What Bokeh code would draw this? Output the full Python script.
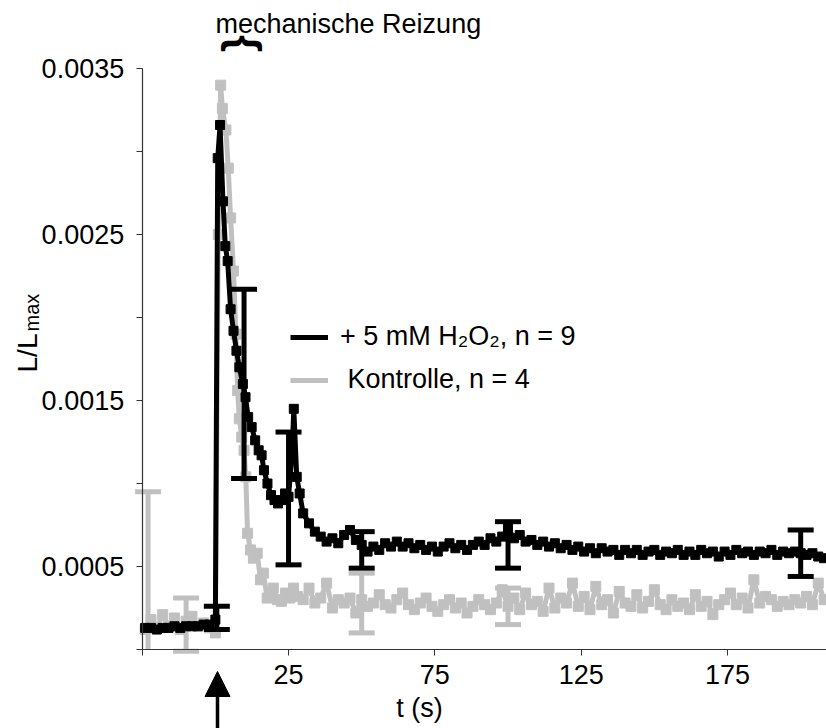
import numpy as np
from math import pi
from bokeh.plotting import figure
from bokeh.models import Range1d, FixedTicker, Label, Arrow, NormalHead, Legend, LegendItem
from bokeh.embed import file_html
from bokeh.resources import INLINE

# ---------------- data ----------------
# + 5 mM H2O2, n = 9 (black)
t_h2o2_early = [-24, -22, -20, -18, -16, -14, -12, -10, -8, -6, -4, -2, 0,
                0.8, 1.6, 2.6, 3.4, 4.2, 5.2, 6.2, 7.2, 8.2, 9.4,
                10.3, 11.2, 12.4, 13.6, 14.8, 15.8, 16.6, 17.8, 19.0, 20.2,
                21.4, 22.6, 23.8, 25.0, 26.2, 26.8, 27.8, 28.8]
L_h2o2_early = [0.00013, 0.00013, 0.00012, 0.00013, 0.00013, 0.00014, 0.00013, 0.00014, 0.00014, 0.00014, 0.00015, 0.00015, 0.00018,
                0.00296, 0.00316, 0.00270, 0.00243, 0.00234, 0.00205, 0.00192, 0.00180, 0.00170, 0.00160,
                0.00152, 0.00140, 0.00134, 0.00126, 0.00120, 0.00117, 0.00108, 0.00100, 0.00093, 0.00090,
                0.00088, 0.00090, 0.00094, 0.00092, 0.00118, 0.00145, 0.00104, 0.00094]
t_h2o2_tail_start = 30
t_h2o2_tail_step = 2
L_h2o2_tail = [0.00082, 0.00076, 0.00071, 0.00068, 0.00065, 0.00067, 0.00064, 0.00069, 0.00072, 0.00066,
               0.00063, 0.00059, 0.00062, 0.00060, 0.00064, 0.00062, 0.00065, 0.00062, 0.00064, 0.00061,
               0.00063, 0.00060, 0.00062, 0.00059, 0.00062, 0.00064, 0.00061, 0.00063, 0.00060, 0.00063,
               0.00065, 0.00063, 0.00067, 0.00065, 0.00068, 0.00073, 0.00067, 0.00069, 0.00065, 0.00066,
               0.00063, 0.00065, 0.00062, 0.00064, 0.00061, 0.00063, 0.00060, 0.00062, 0.00059, 0.00061,
               0.00058, 0.00061, 0.00059, 0.00060, 0.00057, 0.00060, 0.00058, 0.00060, 0.00057, 0.00059,
               0.00060, 0.00057, 0.00059, 0.00058, 0.00060, 0.00057, 0.00059, 0.00057, 0.00060, 0.00058,
               0.00059, 0.00056, 0.00059, 0.00057, 0.00060, 0.00058, 0.00059, 0.00057, 0.00059, 0.00058,
               0.00060, 0.00057, 0.00059, 0.00058, 0.00059, 0.00058, 0.00057, 0.00058, 0.00056, 0.00055]

# Kontrolle, n = 4 (grey)
t_ctrl_early = [-24, -22, -20, -18, -16, -14, -12, -10, -8, -6, -4, -2, 0,
                1.0, 1.8, 2.4, 3.6, 4.4, 5.2, 6.2, 7.0, 7.6, 8.2,
                9.0, 9.8, 10.4, 11.0, 12.0, 13.0, 14.3, 15.4, 16.4, 17.7,
                18.8, 19.8, 21.2, 22.6, 24.0, 25.4, 26.7, 28.0]
L_ctrl_early = [0.00012, 0.00018, 0.00013, 0.00021, 0.00014, 0.00019, 0.00012, 0.00017, 0.00020, 0.00014, 0.00016, 0.00013, 0.00010,
                0.00250, 0.00340, 0.00326, 0.00313, 0.00290, 0.00260, 0.00228, 0.00190, 0.00156, 0.00139,
                0.00128, 0.00120, 0.00104, 0.00070, 0.00060, 0.00055, 0.00058, 0.00042, 0.00046, 0.00031,
                0.00034, 0.00037, 0.00030, 0.00029, 0.00034, 0.00031, 0.00037, 0.00032]
t_ctrl_tail_start = 30
t_ctrl_tail_step = 2
L_ctrl_tail = [0.00030, 0.00037, 0.00028, 0.00031, 0.00040, 0.00025, 0.00030, 0.00028, 0.00031, 0.00022,
               0.00030, 0.00026, 0.00028, 0.00033, 0.00027, 0.00025, 0.00030, 0.00034, 0.00027, 0.00024,
               0.00028, 0.00031, 0.00026, 0.00023, 0.00027, 0.00030, 0.00025, 0.00028, 0.00022, 0.00026,
               0.00030, 0.00027, 0.00024, 0.00028, 0.00036, 0.00026, 0.00031, 0.00024, 0.00034, 0.00027,
               0.00029, 0.00023, 0.00037, 0.00025, 0.00031, 0.00028, 0.00040, 0.00026, 0.00032, 0.00024,
               0.00038, 0.00027, 0.00030, 0.00022, 0.00035, 0.00028, 0.00026, 0.00033, 0.00025, 0.00029,
               0.00036, 0.00027, 0.00024, 0.00030, 0.00026, 0.00028, 0.00024, 0.00033, 0.00026, 0.00029,
               0.00021, 0.00027, 0.00030, 0.00034, 0.00027, 0.00031, 0.00025, 0.00042, 0.00028, 0.00032,
               0.00030, 0.00026, 0.00029, 0.00027, 0.00030, 0.00028, 0.00032, 0.00027, 0.00040, 0.00030]

# error bars (mean +/- error)
err_t_h2o2 = [0.5, 9.8, 25.0, 50.0, 100.0, 200.0]
err_mean_h2o2 = [0.00019, 0.00160, 0.00091, 0.00060, 0.00063, 0.00058]
err_sd_h2o2 = [0.00007, 0.00057, 0.00040, 0.00011, 0.00014, 0.00014]
err_t_ctrl = [-23.0, -10.0, 50.0, 100.0]
err_mean_ctrl = [0.00013, 0.00015, 0.00028, 0.00026]
err_sd_ctrl = [0.00082, 0.00016, 0.00018, 0.00011]

# axes
x_axis_start, x_axis_end = -25, 208.8
y_axis_start, y_axis_end = 0.0, 0.0035
x_major_ticks = [25, 75, 125, 175]
x_minor_ticks = [-25]
y_major_ticks = [0.0005, 0.0015, 0.0025, 0.0035]
y_minor_ticks = [0.0, 0.001, 0.002, 0.003]

stim_t = 0.73         # time of mechanical stimulus (arrow)
stim_center = 10.4    # centre of stimulation interval (brace)

# ---------------- assemble ----------------
t_h2o2 = t_h2o2_early + [t_h2o2_tail_start + t_h2o2_tail_step * i for i in range(len(L_h2o2_tail))]
L_h2o2 = L_h2o2_early + L_h2o2_tail
t_ctrl = t_ctrl_early + [t_ctrl_tail_start + t_ctrl_tail_step * i for i in range(len(L_ctrl_tail))]
L_ctrl = L_ctrl_early + L_ctrl_tail

FONT = "Liberation Sans"
BLACK = "#000000"
GREY = "#c0c0c0"
AXIS = "#333333"

# frame fills the whole canvas; axes are drawn at fixed data locations
p = figure(width=826, height=728, output_backend="svg", toolbar_location=None,
           x_range=Range1d(-73.42, 208.82), y_range=Range1d(-0.000476, 0.00391),
           min_border=0)
p.outline_line_color = None
p.xgrid.visible = False
p.ygrid.visible = False
p.background_fill_color = "white"
p.border_fill_color = "white"

for ax in (p.xaxis[0], p.yaxis[0]):
    ax.axis_line_color = AXIS
    ax.axis_line_width = 1.2
    ax.major_tick_line_color = AXIS
    ax.minor_tick_line_color = AXIS
    ax.major_tick_out = 6
    ax.major_tick_in = 0
    ax.minor_tick_out = 6
    ax.minor_tick_in = 0
    ax.major_label_text_font = FONT
    ax.major_label_text_font_size = "27px"
    ax.major_label_text_color = "black"

p.xaxis[0].ticker = FixedTicker(ticks=x_major_ticks, minor_ticks=x_minor_ticks)
p.yaxis[0].ticker = FixedTicker(ticks=y_major_ticks, minor_ticks=y_minor_ticks)
p.xaxis[0].fixed_location = y_axis_start
p.yaxis[0].fixed_location = x_axis_start
p.xaxis[0].bounds = (x_axis_start, x_axis_end)
p.yaxis[0].bounds = (y_axis_start, y_axis_end)
p.yaxis[0].major_label_standoff = 12
p.xaxis[0].major_label_standoff = 10
p.yaxis[0].formatter.use_scientific = False
p.yaxis[0].formatter.precision = 4

# grey series
grey_line = p.line(t_ctrl, L_ctrl, line_color=GREY, line_width=5)
p.scatter(t_ctrl, L_ctrl, marker="square", size=10, fill_color=GREY, line_color=GREY)
lo_c = np.array(err_mean_ctrl) - np.array(err_sd_ctrl)
hi_c = np.array(err_mean_ctrl) + np.array(err_sd_ctrl)
seg_lo_c = np.maximum(lo_c, y_axis_start)          # bars are cut at the x axis
p.segment(x0=err_t_ctrl, y0=seg_lo_c, x1=err_t_ctrl, y1=hi_c, line_color=GREY, line_width=5)
p.scatter(err_t_ctrl, hi_c, marker="dash", size=26, line_color=GREY, line_width=5)
cap_ok = lo_c > -0.00005
p.scatter(np.array(err_t_ctrl)[cap_ok], lo_c[cap_ok], marker="dash", size=26, line_color=GREY, line_width=5)

# black series
black_line = p.line(t_h2o2, L_h2o2, line_color=BLACK, line_width=5)
p.scatter(t_h2o2, L_h2o2, marker="square", size=9, fill_color=BLACK, line_color=BLACK)
lo_b = np.array(err_mean_h2o2) - np.array(err_sd_h2o2)
hi_b = np.array(err_mean_h2o2) + np.array(err_sd_h2o2)
p.segment(x0=err_t_h2o2, y0=lo_b, x1=err_t_h2o2, y1=hi_b, line_color=BLACK, line_width=5)
p.scatter(err_t_h2o2, hi_b, marker="dash", size=26, line_color=BLACK, line_width=5)
p.scatter(err_t_h2o2, lo_b, marker="dash", size=26, line_color=BLACK, line_width=5)

# legend
legend = Legend(items=[LegendItem(label="+ 5 mM H\u2082O\u2082, n = 9", renderers=[black_line]),
                       LegendItem(label="\u00a0Kontrolle, n = 4", renderers=[grey_line])],
                location=(290, 333), orientation="vertical",
                glyph_width=38, glyph_height=26, label_height=26, label_standoff=12,
                spacing=12, padding=0, margin=0, border_line_color=None,
                background_fill_alpha=0, label_text_font=FONT, label_text_font_size="27px",
                label_text_color="black")
p.add_layout(legend)

# texts and stimulus markers
p.add_layout(Label(x=0.05, y=0.003771, text="mechanische Reizung", text_font=FONT,
                   text_font_size="27px", text_align="left", text_baseline="alphabetic",
                   text_color="black"))
p.add_layout(Label(x=stim_center, y=0.003651, text="{", text_font=FONT, text_font_style="bold",
                   text_font_size="44px", text_align="center", text_baseline="middle",
                   angle=-pi / 2, text_color="black"))
p.add_layout(Label(x=69.75, y=-0.000355, text="t (s)", text_font=FONT, text_font_size="27px",
                   text_align="center", text_baseline="alphabetic", text_color="black"))
p.add_layout(Label(x=-64.2, y=0.001669, text="L/L", text_font=FONT, text_font_size="28px",
                   text_align="left", text_baseline="alphabetic", angle=pi / 2, text_color="black"))
p.add_layout(Label(x=-62.5, y=0.001916, text="max", text_font=FONT, text_font_size="20px",
                   text_align="left", text_baseline="alphabetic", angle=pi / 2, text_color="black"))
p.add_layout(Arrow(end=NormalHead(size=25, fill_color="black", line_color="black"),
                   x_start=stim_t, y_start=-0.000476, x_end=stim_t, y_end=-0.0001325,
                   line_width=3.5, line_color="black"))

open("out.html", "w").write(file_html(p, INLINE))
